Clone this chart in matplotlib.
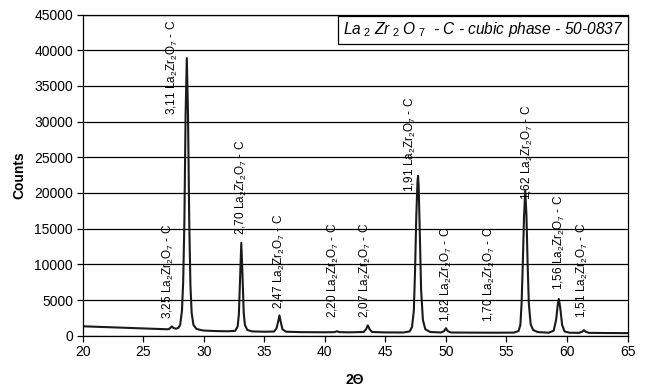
import matplotlib; matplotlib.use("Agg")
import matplotlib.pyplot as plt

plt.rcParams["font.family"] = ["Liberation Sans", "DejaVu Sans"]
plt.rcParams["mathtext.fontset"] = "custom"
plt.rcParams["mathtext.rm"] = "Liberation Sans"
plt.rcParams["mathtext.it"] = "Liberation Sans:italic"

# traced diffractogram (2theta, counts)
two_theta = [20, 22, 24, 26, 27, 27.1, 27.25, 27.36, 27.5, 27.7, 27.9, 28.05, 28.2, 28.3, 28.4, 28.5,
             28.6, 28.7, 28.8, 28.9, 29.0, 29.15, 29.4, 29.8, 30, 31, 32, 32.6, 32.8, 32.9, 33.0,
             33.1, 33.2, 33.3, 33.4, 33.6, 34, 35, 35.8, 36.0, 36.15, 36.25, 36.35, 36.5, 36.8, 38,
             40, 40.8, 41.0, 41.2, 42, 43.2, 43.4, 43.55, 43.7, 43.9, 45, 46.5, 47.0, 47.2, 47.35,
             47.45, 47.55, 47.65, 47.7, 47.75, 47.85, 47.95, 48.1, 48.3, 48.7, 49.6, 49.85, 50.0,
             50.15, 50.4, 52, 54, 55.6, 56.0, 56.15, 56.25, 56.35, 56.45, 56.55, 56.65, 56.75, 56.85,
             57.0, 57.2, 57.6, 58.5, 58.9, 59.1, 59.25, 59.33, 59.45, 59.6, 59.8, 60.2, 61.0, 61.25,
             61.4, 61.55, 61.8, 63, 65]
counts = [1320, 1200, 1080, 960, 900, 920, 1100, 1300, 1080, 980, 1100, 1500, 3500, 7500, 16000, 31000,
          38900, 31000, 16000, 7000, 3200, 1500, 950, 780, 720, 650, 620, 680, 1300, 3000, 8000,
          13000, 8500, 3200, 1500, 800, 600, 560, 580, 1000, 2000, 2850, 2000, 900, 560, 500,
          480, 500, 620, 500, 470, 520, 900, 1450, 900, 520, 460, 450, 600, 1200, 3500,
          9000, 16500, 21500, 22400, 21000, 14000, 6500, 2200, 900, 520, 450, 650, 1050,
          650, 450, 430, 420, 430, 650, 1500, 4500, 10000, 16500, 20300, 17000, 10000, 4500,
          1600, 800, 500, 420, 700, 2200, 4500, 5150, 3800, 1500, 600, 420, 400, 550,
          780, 550, 400, 380, 360]

# peak labels: d-spacing text, label x, label bottom y
d_labels = ["3,25", "3,11", "2,70", "2,47", "2,20", "2,07", "1,91", "1,82", "1,70", "1,62", "1,56", "1,51"]
label_x = [27.05, 27.38, 33.14, 36.22, 40.69, 43.33, 47.11, 50.02, 53.57, 56.75, 59.38, 61.26]
label_y = [2340, 30900, 14100, 3740, 2480, 2480, 20170, 1920, 1920, 19000, 6400, 2480]

fig = plt.figure(figsize=(6.49, 3.86), dpi=100)
ax = fig.add_axes([0.1274, 0.1303, 0.9669 - 0.1274, 0.9624 - 0.1303])

ax.plot(two_theta, counts, color="#1a1a1a", lw=1.5, solid_joinstyle="round")
ax.set_xlim(20, 65)
ax.set_ylim(0, 45000)
ax.set_xticks(range(20, 66, 5))
ax.set_yticks(range(0, 45001, 5000))
ax.yaxis.grid(True, color="black", lw=0.9)
ax.set_axisbelow(True)
for s in ax.spines.values():
    s.set_color("black"); s.set_linewidth(0.9)
ax.tick_params(labelsize=10, length=4, width=0.9, color="black", pad=3)

for lab, lx, ly in zip(d_labels, label_x, label_y):
    ax.text(lx, ly, lab + r" La$_2$Zr$_2$O$_7$ - C", rotation=90, ha="center", va="bottom",
            fontsize=8.5)

ax.text(0.992, 0.982, r"La$_{\ 2}$ Zr$_{\ 2}$ O$_{\ 7}$  - C - cubic phase - 50-0837",
        transform=ax.transAxes, ha="right", va="top", fontsize=11.2, style="italic",
        bbox=dict(boxstyle="square,pad=0.28", fc="white", ec="black", lw=0.9))

fig.text(19 / 649, 1 - 175 / 386, "Counts", rotation=90, ha="center", va="center",
         fontsize=10, fontweight="bold")
fig.text(355 / 649, 1 - 380 / 386, "2Θ", ha="center", va="center", fontsize=10, fontweight="bold")

fig.savefig("out.png", dpi=100)
